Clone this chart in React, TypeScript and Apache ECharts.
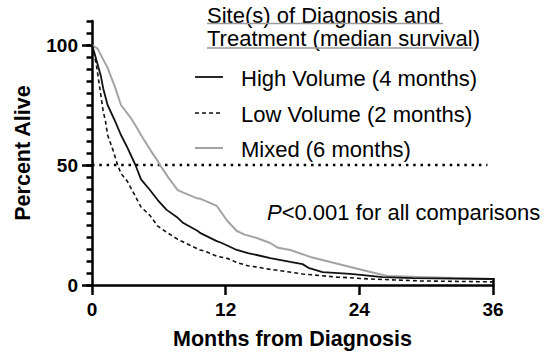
import React, { useEffect, useRef } from "react";
import * as echarts from "echarts";

// Kaplan–Meier style survival curves: [months from diagnosis, percent alive]
const highVolume: [number, number][] = [
  [0, 100], [0.2, 97], [0.5, 92], [0.8, 87], [1, 82], [1.4, 75], [2.1, 68], [2.6, 62.5],
  [3.2, 57], [3.9, 50], [4.4, 44], [5.2, 39.6], [5.9, 35.4], [6.7, 31.3], [7.7, 28],
  [8.2, 25.8], [9.5, 22.5], [9.7, 21.7], [11.2, 18.3], [11.6, 17.6], [13, 14.6], [14, 13.3],
  [14.8, 12.5], [16, 11.2], [17.8, 9.6], [18.9, 8.7], [19.5, 7], [20.7, 5.4], [23.2, 4.6],
  [25, 3.8], [26.1, 3.3], [28.8, 2.9], [36, 2.5],
];

const lowVolume: [number, number][] = [
  [0, 100], [0.2, 96], [0.4, 91.5], [0.7, 82], [1, 72.5], [1.2, 68.5], [1.4, 62.5], [1.9, 56],
  [2.3, 50], [2.6, 46.5], [3.2, 43], [4.4, 32.5], [5.2, 29], [5.9, 24.5], [6.7, 22], [7.7, 19],
  [8.2, 17.9], [9.7, 14.6], [10.1, 14.2], [11.2, 12], [12.2, 11], [13, 9.4], [14, 8],
  [14.8, 7.5], [16, 6.5], [16.7, 6.1], [18.9, 4.6], [22, 3.3], [25, 2.5], [29.4, 1.7], [36, 1.3],
];

const mixed: [number, number][] = [
  [0, 100], [0.5, 98.5], [1, 94], [1.4, 90.5], [2.1, 82], [2.6, 75], [3.5, 69.5], [4.1, 65],
  [4.4, 62.5], [5.3, 55.8], [5.9, 51.7], [6.1, 50], [7, 43.8], [7.7, 39.5], [8.2, 38.5],
  [9.5, 36], [9.7, 36], [11.2, 33], [12.1, 27], [13, 22.5], [13.7, 21], [14.8, 19.6],
  [16, 17.5], [16.7, 15.5], [17.8, 14.6], [19.6, 11.7], [21.4, 9.6], [23.2, 7.5], [25, 5.4],
  [26.5, 3.8], [29.4, 3.3], [32.4, 2.9], [36, 2.5],
];

// Median reference line at 50%
const medianLine: [number, number][] = [[0, 50], [35.5, 50]];

const seriesNames = [
  "High Volume (4 months)",
  "Low Volume (2 months)",
  "Mixed (6 months)",
];
const seriesColors = ["#111111", "#111111", "#a3a3a3"];
const seriesDash: (number[] | "solid")[] = ["solid", [4, 3], "solid"];
const seriesWidths = [1.8, 1.6, 2];

const legendTitle = ["Site(s) of Diagnosis and", "Treatment (median survival)"];

const xTicks = [0, 12, 24, 36];
const yLabelTicks = [0, 50, 100];
const yMinorTicks = [0, 5, 10, 15, 20, 25, 30, 35, 40, 45, 50, 55, 60, 65, 70, 75, 80, 85, 90, 95, 100, 105, 110];

const FONT = "Liberation Sans, Arial, Helvetica, sans-serif";
const TEXT_SIZE = 22;

export default function App() {
  const ref = useRef<HTMLDivElement>(null);

  useEffect(() => {
    if (!ref.current) return;
    const chart = echarts.init(ref.current, undefined, { renderer: "svg" });

    const seriesData = [highVolume, lowVolume, mixed];

    // hand-built legend: line sample + label per series
    const legendRowsY = [77, 113, 148];
    const legendGraphics: any[] = [];
    seriesNames.forEach((name, i) => {
      const y = legendRowsY[i];
      legendGraphics.push({
        type: "line",
        shape: { x1: 195, y1: y, x2: 223, y2: y },
        style: {
          stroke: seriesColors[i],
          lineWidth: seriesWidths[i],
          lineDash: seriesDash[i] === "solid" ? null : seriesDash[i],
        },
      });
      legendGraphics.push({
        type: "text",
        x: 241,
        y: y + 1,
        style: {
          text: name,
          fontFamily: FONT,
          fontSize: TEXT_SIZE,
          fill: "#000",
          verticalAlign: "middle",
          align: "left",
        },
      });
    });

    chart.setOption({
      animation: false,
      backgroundColor: "#ffffff",
      textStyle: { fontFamily: FONT },
      grid: { left: 92, right: 58, top: 21, bottom: 75, containLabel: false },
      xAxis: [
        {
          type: "value",
          min: 0,
          max: 36,
          interval: 12,
          name: "Months from Diagnosis",
          nameLocation: "middle",
          nameGap: 43,
          nameTextStyle: { fontFamily: FONT, fontWeight: "bold", fontSize: 21.5, color: "#000" },
          axisLine: { show: true, lineStyle: { color: "#000", width: 2.5 } },
          axisTick: { show: true, length: 10, lineStyle: { color: "#000", width: 2.5 } },
          axisLabel: { show: true, margin: 15, fontFamily: FONT, fontWeight: "bold", fontSize: 19, color: "#000", customValues: xTicks },
          splitLine: { show: false },
        },
        {
          type: "value",
          min: 0,
          max: 36,
          position: "bottom",
          axisLine: { show: false },
          axisTick: { show: true, inside: true, length: 7, customValues: [36], lineStyle: { color: "#000", width: 2.5 } },
          axisLabel: { show: false },
          splitLine: { show: false },
        },
      ],
      yAxis: [
        {
          type: "value",
          min: 0,
          max: 110,
          name: "Percent Alive",
          nameLocation: "middle",
          nameGap: 58,
          nameTextStyle: { fontFamily: FONT, fontWeight: "bold", fontSize: 21.5, color: "#000" },
          axisLine: { show: true, lineStyle: { color: "#000", width: 2.5 } },
          axisTick: { show: true, length: 10, customValues: yLabelTicks, lineStyle: { color: "#000", width: 2.5 } },
          axisLabel: { show: true, margin: 14, fontFamily: FONT, fontWeight: "bold", fontSize: 19, color: "#000", customValues: yLabelTicks },
          splitLine: { show: false },
        },
        {
          type: "value",
          min: 0,
          max: 110,
          position: "left",
          axisLine: { show: false },
          axisTick: { show: true, length: 5.5, customValues: yMinorTicks, lineStyle: { color: "#000", width: 2.5 } },
          axisLabel: { show: false },
          splitLine: { show: false },
        },
      ],
      series: [
        ...seriesNames.map((name, i) => ({
          name,
          type: "line",
          data: seriesData[i],
          showSymbol: false,
          symbol: "none",
          lineStyle: { color: seriesColors[i], width: seriesWidths[i], type: seriesDash[i] },
          itemStyle: { color: seriesColors[i] },
          z: 4 - i,
        })),
        {
          name: "median",
          type: "line",
          data: medianLine,
          showSymbol: false,
          symbol: "none",
          lineStyle: { color: "#000", width: 2.5, type: [2.5, 4.8] },
          silent: true,
          z: 1,
        },
      ],
      graphic: [
        {
          type: "text",
          x: 207,
          y: 15,
          style: { text: legendTitle[0], fontFamily: FONT, fontSize: TEXT_SIZE, fill: "#000", verticalAlign: "middle" },
        },
        {
          type: "line",
          shape: { x1: 207, y1: 23.5, x2: 443, y2: 23.5 },
          style: { stroke: "#9a9a9a", lineWidth: 1.5 },
        },
        {
          type: "text",
          x: 207,
          y: 38.5,
          style: { text: legendTitle[1], fontFamily: FONT, fontSize: TEXT_SIZE, fill: "#000", verticalAlign: "middle" },
        },
        {
          type: "line",
          shape: { x1: 207, y1: 48, x2: 473, y2: 48 },
          style: { stroke: "#9a9a9a", lineWidth: 1.5 },
        },
        ...legendGraphics,
        {
          type: "text",
          x: 267,
          y: 212,
          style: {
            text: "{i|P}<0.001 for all comparisons",
            fontFamily: FONT,
            fontSize: TEXT_SIZE,
            fill: "#000",
            verticalAlign: "middle",
            rich: { i: { fontStyle: "italic", fontFamily: FONT, fontSize: TEXT_SIZE, fill: "#000" } },
          },
        },
      ],
    });

    return () => chart.dispose();
  }, []);

  return <div ref={ref} style={{ width: 551, height: 360, position: "absolute", left: 0, top: 0 }} />;
}
